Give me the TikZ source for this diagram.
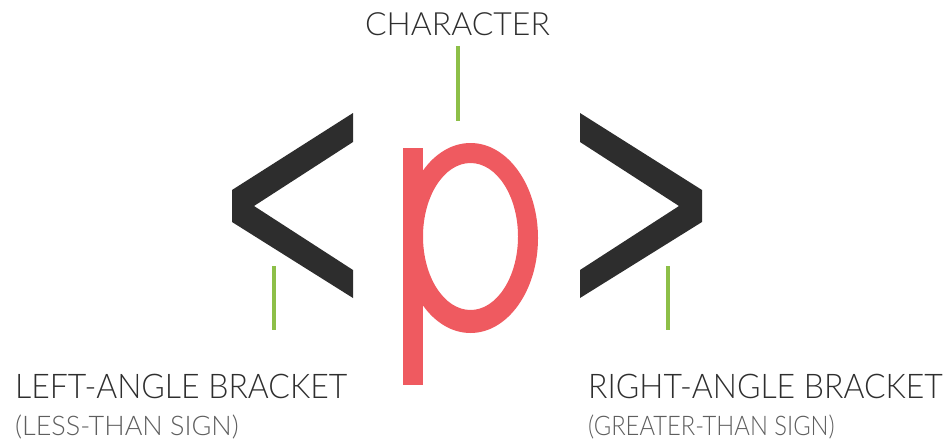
\documentclass[tikz,border=0pt]{standalone}
\usepackage{fontspec}
\setmainfont{Lato}[UprightFont=* Light]
\definecolor{bracketgray}{HTML}{2D2D2D}
\definecolor{pred}{HTML}{EF5A60}
\definecolor{leadgreen}{HTML}{8DBF48}
\definecolor{labeldark}{HTML}{2E2E2E}
\definecolor{labellight}{HTML}{5E5E5E}
\tikzset{
  leader/.style={draw=leadgreen, line width=3.2pt},
  bigl/.style={inner sep=0pt, text=labeldark, font=\fontsize{34}{38}\selectfont},
  smalll/.style={inner sep=0pt, text=labellight, font=\fontsize{27}{31}\selectfont},
  charl/.style={inner sep=0pt, text=labeldark, font=\fontsize{32}{36}\selectfont},
}
\begin{document}
\begin{tikzpicture}[x=1pt,y=-1pt]
\useasboundingbox (0,0) rectangle (949,444);
% brackets
\fill[bracketgray] (353,113) -- (232,190) -- (232,222) -- (353,298) -- (353,270) -- (254,206) -- (353,142) -- cycle;
\fill[bracketgray] (580,113) -- (702,190) -- (702,222) -- (580,298) -- (580,270) -- (679,206) -- (580,142) -- cycle;
% p
\fill[pred, even odd rule] (470.5,238) ellipse [x radius=67.5, y radius=95]
  (470.5,236.5) ellipse [x radius=47.5, y radius=73.5];
\fill[pred] (403,148) rectangle (423,385);
% labels
\node[charl, anchor=base] (char) at (457.5,36) {CHARACTER};
\node[bigl, anchor=base west] (left1) at (15,398) {\scalebox{0.94}[1]{LEFT-ANGLE BRACKET}};
\node[smalll, anchor=base west] (left2) at (15,435) {(LESS-THAN SIGN)};
\node[bigl, anchor=base west] (right1) at (588,398) {\scalebox{0.94}[1]{RIGHT-ANGLE BRACKET}};
\node[smalll, anchor=base west] (right2) at (588,435) {\scalebox{0.88}[1]{(GREATER-THAN SIGN)}};
% leaders
\coordinate (ca) at (458,46);
\coordinate (cb) at (458,121);
\coordinate (la) at (274,266);
\coordinate (lb) at (274,330);
\coordinate (ra) at (668,266);
\coordinate (rb) at (668,330);
\draw[leader] (ca) -- (cb);
\draw[leader] (la) -- (lb);
\draw[leader] (ra) -- (rb);
\end{tikzpicture}
\end{document}
